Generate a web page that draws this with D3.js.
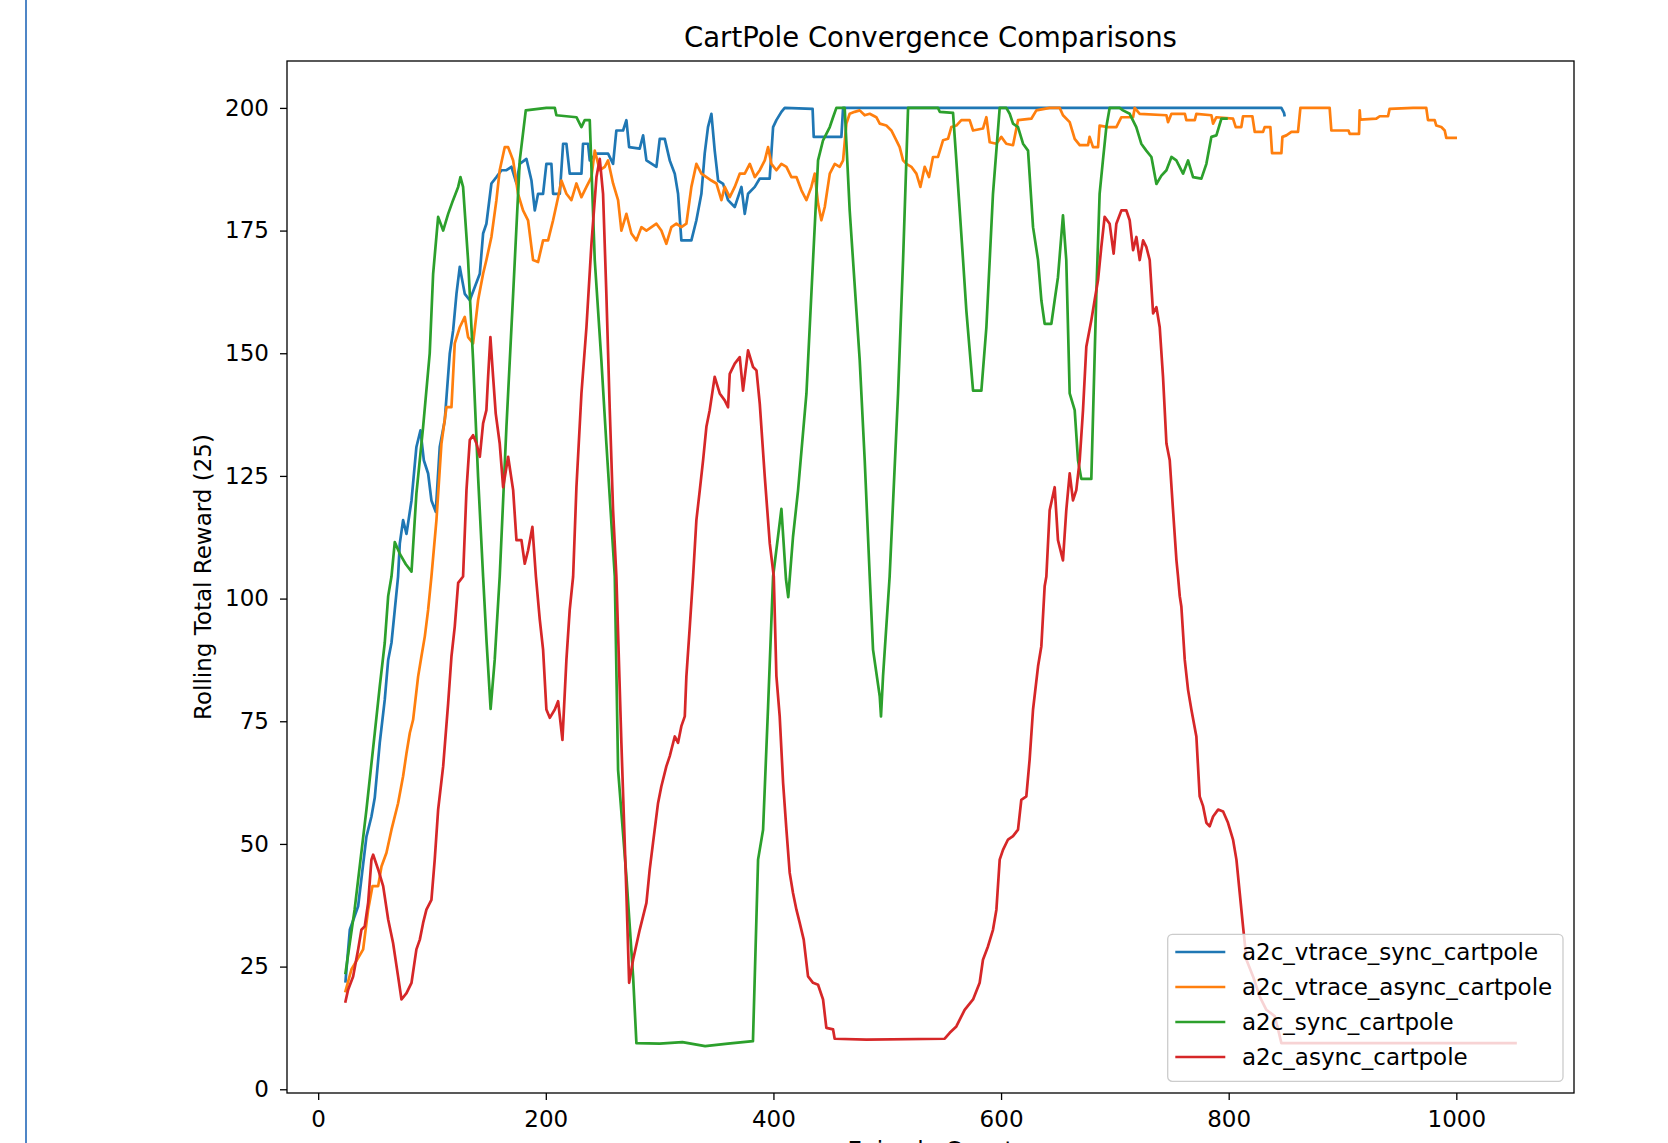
<!DOCTYPE html>
<html>
<head>
<meta charset="utf-8">
<script src="https://d3js.org/d3.v7.min.js"></script>
<style>
  body { margin: 0; background: #fff; }
  svg { display: block; font-family: "DejaVu Sans", sans-serif; }
</style>
</head>
<body>
<script>
/*
Rolling reward per episode: [episode, reward]
*/
var vtraceSync = [[24,22],[27.8,32.5],[35.1,37.3],[42.4,51.5],[46.8,55.6],[49.7,59.4],[54.1,70.6],[58.5,79.4],[61.5,87.5],[64.4,91],[67.3,97.7],[70.2,104.5],[71.7,111.2],[74.6,116],[77.6,113.2],[82,120],[86.3,130.9],[89.9,134.3],[92.8,128.2],[96.6,125.5],[99.5,120],[103.3,117.7],[106.8,130.9],[111.2,136.3],[115.6,149.9],[118.6,154.7],[121.5,162.1],[124.4,167.6],[128.8,162.1],[133.2,160.8],[137.6,163.5],[142,166.2],[144.9,174.4],[147.8,176.4],[152.2,184.6],[156.6,185.9],[161,187.3],[165.4,187.3],[169.8,188],[174.2,184.6],[177.1,188.6],[183,189.6],[187.4,185.2],[190.3,179.1],[193.2,182.5],[197.6,182.5],[200.5,188.6],[204.9,188.6],[206.4,182.5],[212.3,182.5],[215.2,192.7],[218.1,192.7],[221,186.6],[231.3,186.6],[232.7,192.7],[237.1,192.7],[238.6,189.3],[244.5,190.7],[254.7,190.7],[259.1,188.6],[262,195.4],[267.9,195.4],[270.8,197.5],[273.2,192],[282.5,191.7],[285.5,194.4],[288.4,189.3],[297.2,188],[300.1,193.7],[304.5,193.7],[308.9,189.3],[313.3,186.6],[316.2,182.5],[319.1,173],[327.9,173],[332.3,177.1],[336.7,182.5],[339.6,190.7],[342.5,196.1],[345.5,198.8],[348.4,191.3],[351.4,185.2],[355.8,184.5],[360.1,181.2],[366,179.8],[371.9,183.9],[374.8,178.4],[377.7,182.5],[383.6,183.9],[388,185.6],[396.7,185.6],[399.7,196.1],[402.6,197.5],[407,199.2],[409.9,200],[434.4,199.8],[435.4,194.1],[459.7,194.1],[461.2,200],[846.3,200],[848.6,199],[849,198.5]];

var vtraceAsync = [[24,20],[29.2,24.4],[39.5,28.5],[43.9,36.6],[47.7,41.4],[52.7,41.4],[55.6,45.4],[60,48.2],[64.4,52.9],[70.2,58.3],[74.6,63.8],[77.6,68.5],[80.5,72.6],[83.4,75.3],[87.8,84.1],[90.7,88.2],[93.7,92.3],[96.6,97.7],[99.5,104.5],[103.9,116],[108.3,131.6],[112.7,139],[117.1,139],[120,152],[124.4,155.3],[128.8,157.4],[131.7,153.3],[136.1,152],[140.5,160.8],[144.9,166.2],[147.8,169],[152.2,173.7],[156.6,181.2],[159.5,187.3],[163.9,192],[166.9,192],[171.3,189.3],[175.6,182.5],[180,179.1],[184.4,177.1],[188.8,169],[193.2,168.6],[197.6,173],[202,173],[206.4,177.1],[210.8,181.8],[213.7,185.2],[218.1,182.5],[222.5,181.2],[226.9,184.6],[231.3,181.8],[235.7,183.9],[240.1,185.9],[243,191.3],[247.4,187.3],[251.8,188],[254.7,189.3],[259.1,184.6],[263.5,181.2],[266.4,175],[270.8,178.4],[275.2,174.4],[279.6,173],[284,175.7],[288.4,175],[292.8,175.7],[297.2,176.4],[301.5,175],[305.9,172.3],[310.3,175.7],[314.7,176.4],[319.1,175.7],[323.5,176.4],[327.9,183.9],[332.3,188.6],[336.7,186.6],[341.1,185.9],[345.5,185.2],[349.9,184.6],[354.3,181.2],[357.2,183.9],[361.6,181.8],[366,183.9],[370.4,186.6],[374.8,186.6],[379.2,188.6],[383.6,185.9],[388,187.3],[392.4,189.3],[395.3,192],[398.2,188.6],[402.6,187.3],[407,188.6],[411.4,188],[415.8,185.9],[420.2,185.9],[424.6,183.2],[429,181.2],[433.3,183.9],[436.3,186.6],[439.2,180.5],[442.1,177.1],[445.1,179.8],[449.5,186.6],[453.9,188.6],[458.2,188],[461.2,189.3],[464.1,196.8],[467,198.8],[471.4,199.2],[475.8,199.5],[480.2,198.5],[484.6,198.8],[490.4,198.1],[493.4,196.8],[499.2,196.4],[503.6,195.4],[508,193.4],[510.9,192],[513.9,189.3],[516.8,188.6],[521.2,188],[525.6,186.6],[529.1,183.9],[532.9,188],[536.7,185.9],[540.2,190],[544.6,190],[549,193.4],[553.4,193.7],[556.3,196.1],[560.7,196.4],[565.1,197.5],[572.4,197.5],[575.4,195.4],[584.1,195.8],[587.1,198.1],[590,193],[595.9,192.7],[600.2,194.1],[604.6,192.7],[610.5,192.4],[614.9,197.5],[626.6,197.8],[631,199.5],[642.7,200],[651.5,200],[654.4,198.5],[660.3,197.1],[664.7,193.7],[669.1,192.4],[676.4,192.4],[677.8,194.1],[680.8,192],[685.2,192],[686.6,196.4],[694,196.1],[701.3,196.1],[705.7,198.1],[716,198.1],[717.4,200],[721.8,198.8],[745.3,198.5],[746.7,197.1],[749.7,198.8],[761.5,198.8],[762.8,197.5],[770.2,197.5],[771.6,198.8],[784.8,198.5],[786.3,196.8],[789.2,198.1],[803.8,197.8],[806.2,196.1],[811.1,196.1],[812.6,198.3],[820.8,198.3],[822.9,195.1],[830.2,195.1],[831.6,196.1],[836.6,196.1],[838.1,190.8],[846.3,190.8],[847.2,194.1],[850.7,194.4],[855.1,195.1],[860.9,195.1],[863,200],[888.7,200],[890.2,195.4],[905.3,195.4],[906.3,194.7],[914.5,194.7],[915.1,199.5],[915.7,197.6],[929.7,197.8],[932.7,198.3],[940,198.3],[941.4,199.8],[962,200],[973.6,200],[975.1,197.5],[981,197.5],[982.4,196.4],[986.8,196.1],[989.8,195.4],[991.2,193.9],[999.4,193.9]];

var a2cSync = [[24,23.7],[32,36.6],[42.4,57],[49.7,72.6],[54.1,82.1],[58.5,91],[61.5,100.5],[64.4,104.5],[67.3,111.5],[72,109],[77,107],[82,105.5],[86.3,121.4],[92.2,135],[98,150],[101,166.2],[105.4,177.8],[109.8,175],[114.2,178.4],[118.5,181.2],[123,183.9],[125,185.9],[127.3,183.9],[131.7,169],[136.1,148.6],[140.5,124.8],[144.9,104.5],[148,91],[151.5,77.5],[155.1,87.5],[159.5,104.5],[165.4,135],[171.3,162.1],[177.1,189.3],[182.4,199.5],[200.5,200],[207.9,200],[209.3,198.5],[226.9,198.1],[231.3,196.1],[234.2,197.5],[238.6,197.5],[243,169],[248.8,148.6],[253.2,131.6],[260.6,104.5],[263.5,65.1],[270.8,43.4],[276.7,23],[279.6,9.4],[300,9.3],[320,9.6],[340,8.8],[360,9.3],[382,9.8],[386.5,46.8],[390.9,52.9],[395.3,78],[399.7,104.5],[407,118.3],[411,104],[413,100.3],[417.2,112.6],[421.6,122],[429,141.8],[434.8,169],[439.2,189.3],[443.6,193.4],[449.5,196.1],[452.4,198.1],[455.3,200],[462.6,200],[467,179.1],[475.8,148.6],[480.2,128.2],[484.6,104.5],[487.5,89.6],[493.4,80.1],[494.5,76],[496.3,84.2],[502.1,104.5],[509.5,141.8],[513.9,169],[518.3,200],[544.6,200],[546.1,199.2],[557.8,199],[560.7,189.3],[566.6,169],[569.5,158.7],[575.4,142.4],[582.7,142.4],[587.1,155.3],[592.9,182.5],[598.8,200],[604.6,200],[607.6,198.8],[610.5,196.8],[614.9,196.1],[619.3,192.7],[623.7,191.3],[628.1,175.7],[632.5,169],[635.4,160.8],[638.3,156],[644.2,156],[647.1,160.8],[650,165.5],[654.4,178.1],[657.3,169],[660.3,141.8],[664.7,138.4],[667.6,128.2],[670.5,124.4],[679.3,124.4],[683.7,162.1],[686.6,182.5],[689.5,189.3],[692.5,196.1],[695.4,200],[704.2,200],[707.1,199.5],[713,198.8],[718.8,196.1],[723.2,192.7],[727.6,191.3],[732.1,190],[736.5,184.5],[740.9,186.2],[745.3,187.3],[749.7,190],[754,189.3],[759.9,186.6],[764.3,189.3],[768.7,185.9],[776,185.6],[780.4,188.6],[784.8,194.1],[789.2,194.4],[793.6,197.8],[798,197.8]];

var a2cAsync = [[24,17.9],[26.3,20.3],[30.7,23],[35.1,28.5],[38,32.5],[40.9,33.2],[43.9,38],[46.8,46.8],[48.3,47.8],[52.7,44.8],[57.1,41.4],[61.5,34.6],[65.8,29.8],[70.2,23],[73.2,18.3],[77.6,19.6],[82,21.7],[86.3,28.5],[89.3,30.5],[92.2,33.9],[95.1,36.6],[99.5,38.6],[102.4,46.8],[105.4,57],[109.8,65.8],[114.2,78.7],[117.1,88.2],[120,94.3],[123,103.2],[127.3,104.5],[130.3,122.1],[133.2,132.3],[136.1,133.3],[139.1,131.6],[142,128.9],[144.9,135.7],[147.8,138.4],[149.3,145.2],[151.3,153.3],[153.7,145.2],[156,137.7],[159.5,131.6],[162.5,122.7],[166.9,128.9],[171.3,122.1],[174.2,111.9],[178.6,111.9],[181.5,107.1],[184.4,109.8],[188.2,114.6],[191.3,104.5],[194.7,95.7],[197.6,89.6],[200.5,77.4],[203.5,75.7],[207.9,77.4],[210.8,79.1],[214.6,71.2],[218.1,87.5],[221,97.7],[224,104.5],[226.9,122.7],[231.3,141.8],[235.7,155.3],[240.1,172.3],[244.5,185.9],[247.4,189.6],[250.3,182.5],[253.2,162.1],[256.2,138.4],[259.1,118],[262,104.5],[266.4,70.6],[270.8,40],[273.2,21.7],[276.7,26.4],[282.5,32.5],[288.4,38],[291.3,44.8],[294.2,50.2],[298.6,58.3],[301.5,61.7],[305.9,65.8],[308.9,67.9],[313.3,71.9],[316.2,70.6],[319.1,74],[322.1,76],[323.5,84.1],[326.5,94.3],[329.4,104.5],[332.3,116],[335.3,122.1],[338.2,128.2],[341.1,135],[344,138.4],[348.4,145.2],[352.8,141.8],[357.2,140.4],[360.1,139],[361.6,145.8],[366,147.9],[370.4,149.2],[373.3,142.4],[377.7,150.6],[382.1,147.2],[385.1,146.5],[388,139.7],[392.4,124.8],[396.8,111.2],[400.3,104.5],[402.6,84.2],[405.5,76],[408.5,62.4],[411.4,52.9],[414.3,44.1],[417.2,40],[420.2,36.6],[423.1,33.9],[426.6,30.5],[430.4,23],[434.8,21.7],[439.2,21.3],[443.6,18.3],[446.5,12.5],[452.4,12.2],[453.8,10.3],[481.7,10.1],[550.5,10.3],[554.9,11.5],[560.7,12.8],[568,16.2],[575.4,18.3],[581.2,21.7],[584.1,26.4],[588.5,29.1],[592.9,32.5],[595.9,36.6],[598.8,46.8],[601.7,48.8],[606.1,50.9],[610.5,51.6],[614.9,52.9],[617.8,59],[622.2,59.7],[625.1,67.2],[628.1,77.4],[632.5,86.2],[635.4,90.3],[638.3,102.5],[639.8,104.5],[642.7,118],[647.1,122.7],[650,111.9],[654.4,107.8],[657.3,118],[660.3,125.5],[663.2,120],[666.1,122.1],[669.1,128.2],[672,138.4],[674.9,151.3],[679.3,156.7],[682.2,160.8],[685.2,164.9],[688.1,171.7],[691,177.8],[695.4,176.4],[698.9,170.3],[701.3,176.4],[705.7,179.1],[710.1,179.1],[713,177.1],[716,171],[718.9,173.7],[721.8,169],[724.8,173],[727.6,171.7],[730.6,169],[733.6,158.1],[736.5,159.4],[739.4,155.3],[742.3,145.2],[745.3,131.6],[748.2,128.2],[751.1,118],[754.1,107.8],[755.5,104.5],[757,100.5],[758.4,98.4],[761.4,87.5],[764.3,81.4],[767.2,77.4],[771.6,71.9],[774.5,59.7],[777.5,57.7],[780.4,54.3],[783.3,53.6],[786.3,55.6],[790.7,57],[795.1,56.6],[799.4,54.3],[803.8,50.9],[806.8,46.8],[809.7,40],[812.6,33.2],[815.6,26.4],[821.4,23],[827.3,18.9],[833.1,16.2],[840.4,14.9],[843.4,12.2],[846.3,9.4],[1052,9.4]];

var seriesNames = ["a2c_vtrace_sync_cartpole", "a2c_vtrace_async_cartpole", "a2c_sync_cartpole", "a2c_async_cartpole"];
var seriesData = [vtraceSync, vtraceAsync, a2cSync, a2cAsync];
var seriesColors = ["#1f77b4", "#ff7f0e", "#2ca02c", "#d62728"];

var xTicks = [0, 200, 400, 600, 800, 1000];
var yTicks = [0, 25, 50, 75, 100, 125, 150, 175, 200];

var titleText = "CartPole Convergence Comparisons",
    xLabelText = "Episode Count",
    yLabelText = "Rolling Total Reward (25)";

/*
Svg and plot box
*/
var width = 1668,
    height = 1143;

var margin = {left: 287, top: 61, right: 94, bottom: 50};
var plotW = width - margin.left - margin.right,
    plotH = height - margin.top - margin.bottom;

var svg = d3.select("body").append("svg")
    .attr("width", width)
    .attr("height", height);

// window edge line on the left of the screenshot
svg.append("line")
    .attr("x1", 26).attr("x2", 26)
    .attr("y1", 0).attr("y2", height)
    .attr("stroke", "#4f86c6")
    .attr("stroke-width", 2);

// matplotlib style autoscale: 5% margin on both sides
var allPts = d3.merge(seriesData);
var xExt = d3.extent(allPts, function(d) { return d[0]; }),
    yExt = d3.extent(allPts, function(d) { return d[1]; });
var xPad = (xExt[1] - xExt[0]) * 0.05,
    yPad = (yExt[1] - yExt[0]) * 0.05;

var x = d3.scaleLinear()
    .domain([xExt[0] - xPad, xExt[1] + xPad])
    .range([0, plotW]);

var y = d3.scaleLinear()
    .domain([yExt[0] - yPad, yExt[1] + yPad])
    .range([plotH, 0]);

var g = svg.append("g")
    .attr("transform", "translate(" + margin.left + "," + margin.top + ")");

var line = d3.line()
    .x(function(d) { return x(d[0]); })
    .y(function(d) { return y(d[1]); });

g.selectAll("path.series")
    .data(seriesData)
    .enter().append("path")
    .attr("class", "series")
    .attr("fill", "none")
    .attr("stroke", function(d, i) { return seriesColors[i]; })
    .attr("stroke-width", 2.7)
    .attr("stroke-linejoin", "round")
    .attr("stroke-linecap", "square")
    .attr("d", line);

// axes
var xAxis = g.append("g")
    .attr("transform", "translate(0," + plotH + ")")
    .call(d3.axisBottom(x).tickValues(xTicks).tickFormat(d3.format("d"))
        .tickSize(7).tickSizeOuter(0).tickPadding(11));

var yAxis = g.append("g")
    .call(d3.axisLeft(y).tickValues(yTicks).tickFormat(d3.format("d"))
        .tickSize(7).tickSizeOuter(0).tickPadding(11));

[xAxis, yAxis].forEach(function(ax) {
    ax.select(".domain").remove();
    ax.selectAll("line").attr("stroke", "#000").attr("stroke-width", 1.3);
    ax.selectAll("text")
        .attr("fill", "#000")
        .style("font-size", "23px")
        .style("font-family", "'DejaVu Sans', sans-serif");
});

g.append("rect")
    .attr("x", 0)
    .attr("y", 0)
    .attr("width", plotW)
    .attr("height", plotH)
    .attr("fill", "none")
    .attr("stroke", "#000")
    .attr("stroke-width", 1.3);

// title and labels
svg.append("text")
    .attr("x", margin.left + plotW / 2)
    .attr("y", 46.7)
    .attr("text-anchor", "middle")
    .style("font-size", "27.5px")
    .attr("fill", "#000")
    .text(titleText);

// x label sits mostly below the visible window, as in the screenshot
svg.append("text")
    .attr("x", margin.left + plotW / 2)
    .attr("y", 1158)
    .attr("text-anchor", "middle")
    .style("font-size", "23px")
    .attr("fill", "#000")
    .text(xLabelText);

svg.append("text")
    .attr("transform", "translate(211," + (margin.top + plotH / 2) + ") rotate(-90)")
    .attr("text-anchor", "middle")
    .style("font-size", "23px")
    .attr("fill", "#000")
    .text(yLabelText);

// legend, lower right
var legend = svg.append("g")
    .attr("transform", "translate(1167.7,934.3)");

legend.append("rect")
    .attr("width", 395.3)
    .attr("height", 147)
    .attr("rx", 4.6)
    .attr("fill", "#fff")
    .attr("fill-opacity", 0.8)
    .attr("stroke", "#cccccc")
    .attr("stroke-width", 1.3);

var rows = legend.selectAll("g.row")
    .data(seriesNames)
    .enter().append("g")
    .attr("class", "row")
    .attr("transform", function(d, i) { return "translate(0," + (17.7 + i * 35) + ")"; });

rows.append("line")
    .attr("x1", 7.6).attr("x2", 57.6)
    .attr("y1", 0).attr("y2", 0)
    .attr("stroke", function(d, i) { return seriesColors[i]; })
    .attr("stroke-width", 2.7);

rows.append("text")
    .attr("x", 74.3)
    .attr("y", 8.3)
    .style("font-size", "23px")
    .attr("fill", "#000")
    .text(function(d) { return d; });
</script>
</body>
</html>
